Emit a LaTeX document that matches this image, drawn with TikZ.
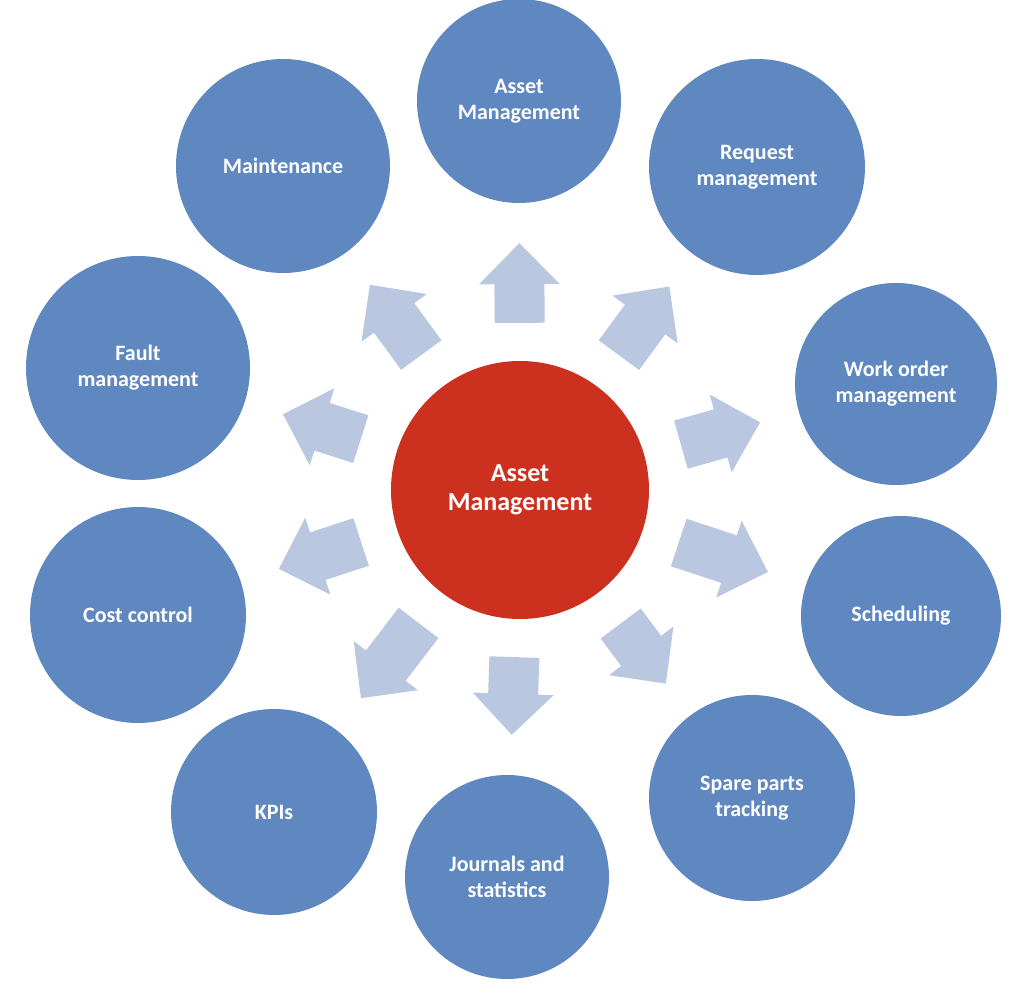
\documentclass[tikz,border=0pt]{standalone}
\usepackage{fontspec}
\setmainfont{Carlito}
\usetikzlibrary{arrows.meta}
\definecolor{modblue}{HTML}{5F87C0}
\definecolor{hubred}{HTML}{CC301E}
\definecolor{spokeblue}{HTML}{B9C7E0}

\begin{document}
\begin{tikzpicture}[x=1pt, y=1pt,
                    module/.style={circle, fill=modblue, text=white, align=center, inner sep=0pt,
                                   font=\fontsize{22}{26}\selectfont\bfseries},
                    hub/.style={circle, fill=hubred, text=white, align=center, inner sep=0pt,
                                minimum size=258pt, font=\fontsize{26}{29}\selectfont\bfseries},
                    spoke/.style={spokeblue, line width=50pt, shorten <=38pt, shorten >=40pt,
                                  -{Triangle[width=80pt,length=41pt,line width=4pt]}}]

                    \useasboundingbox (-520,-502) rectangle (504,490);

                    \node[hub] (am) at (0,0) {Asset\\Management};

                    \node[module, minimum size=204pt] (asset)    at (-1,389)    {Asset\\Management};
                    \node[module, minimum size=216pt] (request)  at (237,323)   {Request\\management};
                    \node[module, minimum size=202pt] (workorder) at (376,106)  {Work order\\management};
                    \node[module, minimum size=200pt] (sched)    at (381,-126)  {Scheduling};
                    \node[module, minimum size=206pt] (spare)    at (232,-308)  {Spare parts\\tracking};
                    \node[module, minimum size=204pt] (journals) at (-13,-387)  {Journals and\\statistics};
                    \node[module, minimum size=206pt] (kpi)      at (-246,-322) {KPIs};
                    \node[module, minimum size=216pt] (cost)     at (-382,-125) {Cost control};
                    \node[module, minimum size=224pt] (fault)    at (-382,122)  {Fault\\management};
                    \node[module, minimum size=214pt] (maint)    at (-237,324)  {Maintenance};

                    \path[spoke]
                    (am) edge (asset)
                         edge (request)
                         edge (workorder)
                         edge (sched)
                         edge (spare)
                         edge (journals)
                         edge (kpi)
                         edge (cost)
                         edge (fault)
                         edge (maint);
\end{tikzpicture}
\end{document}
